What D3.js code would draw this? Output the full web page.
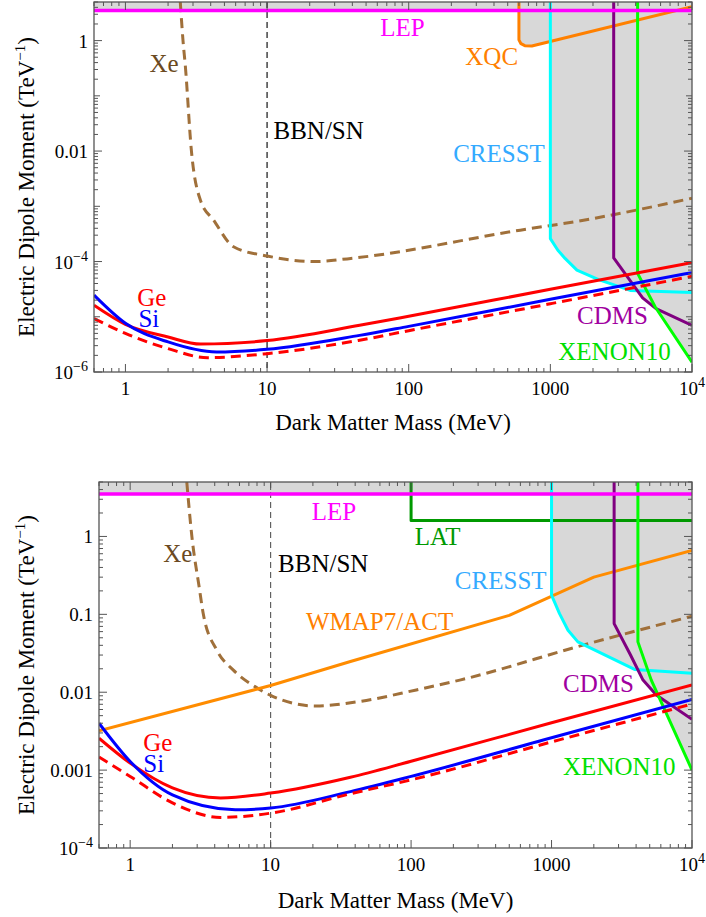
<!DOCTYPE html>
<html>
<head>
<meta charset="utf-8">
<title>Electric dipole moment limits</title>
<script src="https://cdn.jsdelivr.net/npm/d3@7"></script>
<style>
  body { margin: 0; background: #fff; }
</style>
</head>
<body>
<svg id="chart" width="706" height="917" font-family="'Liberation Serif', 'Times New Roman', Times, serif"></svg>
<script>
// values, as [mass in MeV, EDM in TeV^-1]
var xTicks = [1, 10, 100, 1000, 10000];
var xTickLabels = ["1", "10", "100", "1000", "10^4"];
var topYTicks = [1e-6, 1e-4, 1e-2, 1];
var topYLabels = ["10^\u22126", "10^\u22124", "0.01", "1"];
var botYTicks = [1e-4, 1e-3, 1e-2, 0.1, 1];
var botYLabels = ["10^\u22124", "0.001", "0.01", "0.1", "1"];

// upper panel
var lepTop = [[0.6, 3.5], [1e4, 3.5]];
var xqcTop = [[600, 5], [600, 1.03], [620, 0.88], [660, 0.81], [740, 0.8], [1e4, 4.1]];
var cresstTop = [[1000, 5], [1000, 2.6e-4], [1130, 1.6e-4], [1270, 1.14e-4], [1540, 7e-5], [2190, 4.7e-5], [3660, 3.0e-5], [1e4, 2.75e-5]];
var cdmsTop = [[2800, 5], [2800, 1.16e-4], [4480, 2.2e-5], [5570, 1.4e-5], [1e4, 7e-6]];
var xenonTop = [[4130, 5], [4130, 6.1e-5], [5500, 1.5e-5], [1e4, 1.5e-6]];
var xeTop = [[2.44, 5], [2.55, 1], [2.65, 0.34], [2.92, 0.0104], [3.38, 1.3e-3], [4.2, 5.6e-4], [5.8, 1.85e-4], [10, 1.26e-4], [22, 1e-4], [39, 1.14e-4], [613, 3.7e-4], [1715, 5.6e-4], [1e4, 1.4e-3]];
var geTop = [[0.6, 1.62e-5], [1, 7.3e-6], [2, 4.3e-6], [3.4, 3.2e-6], [10, 3.7e-6], [45, 7e-6], [100, 1.02e-5], [1000, 3.15e-5], [1e4, 9.6e-5]];
var siTop = [[0.6, 2.46e-5], [1, 7.6e-6], [2, 3.5e-6], [4.4, 2.3e-6], [10, 2.57e-6], [45, 4.6e-6], [100, 6.7e-6], [1000, 2.07e-5], [1e4, 6.3e-5]];
var geDashTop = [[0.6, 9.3e-6], [1, 5e-6], [2, 2.65e-6], [3.8, 1.82e-6], [10, 2.15e-6], [45, 3.76e-6], [100, 5.6e-6], [1000, 1.72e-5], [1e4, 5.4e-5]];

// lower panel
var lepBot = [[0.6, 3.5], [1e4, 3.5]];
var latBot = [[100, 5], [100, 1.6], [1e4, 1.6]];
var cresstBot = [[1000, 5], [1000, 0.176], [1140, 0.102], [1310, 0.0625], [1540, 0.0443], [3900, 0.0196], [1e4, 0.0175]];
var cdmsBot = [[2790, 5], [2790, 0.076], [3650, 0.03], [4480, 0.0143], [5570, 9.2e-3], [1e4, 4.5e-3]];
var xenonBot = [[4120, 5], [4120, 0.0443], [5130, 0.0143], [1e4, 1e-3]];
var xeBot = [[2.53, 5], [2.75, 1], [3.1, 0.224], [3.32, 0.1], [4.14, 0.0347], [5.43, 0.0192], [7.74, 0.0118], [10, 9.1e-3], [21, 6.66e-3], [43, 7.6e-3], [109, 0.0107], [222, 0.0143], [1675, 0.0402], [1e4, 0.0946]];
var wmapBot = [[0.6, 3.2e-3], [10, 0.0122], [37, 0.0248], [500, 0.097], [2000, 0.3], [1e4, 0.66]];
var geBot = [[0.6, 2.57e-3], [1, 1.23e-3], [2, 5.9e-4], [4.4, 4.38e-4], [10, 5.07e-4], [37, 8.1e-4], [100, 1.3e-3], [1000, 4.05e-3], [1e4, 0.0124]];
var siBot = [[0.6, 4.0e-3], [1, 1.29e-3], [2, 4.8e-4], [5.6, 3.1e-4], [10, 3.26e-4], [37, 5.3e-4], [100, 8.3e-4], [1000, 2.6e-3], [1e4, 8.1e-3]];
var geDashBot = [[0.6, 1.47e-3], [1, 8.3e-4], [2, 3.8e-4], [4.4, 2.47e-4], [10, 2.8e-4], [37, 4.97e-4], [100, 7.5e-4], [1000, 2.3e-3], [1e4, 7.06e-3]];

var bbnMass = 10;
var xMin = 0.6, xMax = 1e4, yMax = 5;
var serif = "'Liberation Serif', 'Times New Roman', Times, serif";

var svg = d3.select("#chart");

var panels = [
  {
    box: {left: 94, right: 692, top: 2, bottom: 372},
    yMin: 1e-6, yTicks: topYTicks, yLabels: topYLabels,
    xTitleY: 430, bbnColor: "#000",
    shaded: [xqcTop, cresstTop, cdmsTop, xenonTop],
    lep: lepTop,
    lines: [
      {d: xeTop, color: "#a0703a", dash: "10,6", smooth: true},
      {d: xqcTop, color: "#ff8000"},
      {d: cresstTop, color: "#00ffff"},
      {d: cdmsTop, color: "#800080"},
      {d: xenonTop, color: "#00ff00"},
      {d: lepTop, color: "#ff00ff", width: 3.5},
      {d: geTop, color: "#ff0000", smooth: true},
      {d: siTop, color: "#0000ff", smooth: true},
      {d: geDashTop, color: "#ff0000", dash: "10,6", smooth: true}
    ],
    labels: [
      {t: "Xe", m: 1.48, v: 0.274, c: "#6b4a22"},
      {t: "BBN/SN", m: 11.1, v: 0.0165, c: "#000"},
      {t: "LEP", m: 63, v: 1.22, c: "#ff00ff"},
      {t: "XQC", m: 251, v: 0.363, c: "#ff8000"},
      {t: "CRESST", m: 206, v: 6.4e-3, c: "#33aaff"},
      {t: "Ge", m: 1.21, v: 1.55e-5, c: "#ff0000"},
      {t: "Si", m: 1.235, v: 6.6e-6, c: "#0000ff"},
      {t: "CDMS", m: 1541, v: 7.3e-6, c: "#a000a0"},
      {t: "XENON10", m: 1137, v: 1.68e-6, c: "#00e000"}
    ]
  },
  {
    box: {left: 99, right: 692, top: 482, bottom: 848},
    yMin: 1e-4, yTicks: botYTicks, yLabels: botYLabels,
    xTitleY: 908, bbnColor: "#555",
    shaded: [cresstBot, cdmsBot, xenonBot],
    lep: lepBot,
    lines: [
      {d: xeBot, color: "#a0703a", dash: "10,6", smooth: true},
      {d: wmapBot, color: "#ff8c00"},
      {d: latBot, color: "#009900"},
      {d: cresstBot, color: "#00ffff"},
      {d: cdmsBot, color: "#800080"},
      {d: xenonBot, color: "#00ff00"},
      {d: lepBot, color: "#ff00ff", width: 3.5},
      {d: geBot, color: "#ff0000", smooth: true},
      {d: siBot, color: "#0000ff", smooth: true},
      {d: geDashBot, color: "#ff0000", dash: "10,6", smooth: true}
    ],
    labels: [
      {t: "Xe", m: 1.72, v: 0.469, c: "#6b4a22"},
      {t: "BBN/SN", m: 11.3, v: 0.349, c: "#000"},
      {t: "LEP", m: 19.6, v: 1.64, c: "#ff00ff"},
      {t: "LAT", m: 106, v: 0.767, c: "#009900"},
      {t: "CRESST", m: 205, v: 0.214, c: "#33aaff"},
      {t: "WMAP7/ACT", m: 199.5, v: 0.0626, c: "#ff8000", end: true},
      {t: "CDMS", m: 1208, v: 0.0101, c: "#a000a0"},
      {t: "XENON10", m: 1208, v: 8.7e-4, c: "#00e000"},
      {t: "Ge", m: 1.24, v: 1.78e-3, c: "#ff0000"},
      {t: "Si", m: 1.24, v: 9.4e-4, c: "#0000ff"}
    ]
  }
];

function tickText(sel, s) {
  var parts = s.split("^");
  sel.text(parts[0]);
  if (parts.length > 1) {
    sel.append("tspan").attr("dy", -8).attr("font-size", 14).text(parts[1]);
  }
}

function logTicks(lo, hi) {
  var out = [];
  for (var k = Math.floor(Math.log10(lo)); k <= Math.ceil(Math.log10(hi)); k++) {
    for (var j = 1; j < 10; j++) {
      var v = j * Math.pow(10, k);
      if (v >= lo * 0.999 && v <= hi * 1.001) out.push({v: v, j: j});
    }
  }
  return out;
}

panels.forEach(function(p, i) {
  var b = p.box;
  var x = d3.scaleLog().domain([xMin, xMax]).range([b.left, b.right]);
  var y = d3.scaleLog().domain([p.yMin, yMax]).range([b.bottom, b.top]);

  svg.append("clipPath").attr("id", "clip" + i)
    .append("rect")
      .attr("x", b.left).attr("y", b.top)
      .attr("width", b.right - b.left).attr("height", b.bottom - b.top);

  var g = svg.append("g").attr("clip-path", "url(#clip" + i + ")");

  // excluded regions: everything above each limit curve
  var poly = function(d) {
    var pts = d.map(function(q) { return [x(q[0]), y(q[1])]; });
    pts.push([x(xMax), y(yMax)]);
    pts.push([x(d[0][0]), y(yMax)]);
    return "M" + pts.join("L") + "Z";
  };
  g.selectAll(".shade").data(p.shaded.concat([p.lep])).enter()
    .append("path")
      .attr("fill", "#d8d8d8")
      .attr("stroke", "none")
      .attr("d", poly);

  g.append("line")
      .attr("x1", x(bbnMass)).attr("x2", x(bbnMass))
      .attr("y1", b.top).attr("y2", b.bottom)
      .attr("stroke", p.bbnColor)
      .attr("stroke-width", 1.1)
      .attr("stroke-dasharray", "6,4");

  p.lines.forEach(function(l) {
    var line = d3.line()
      .x(function(q) { return x(q[0]); })
      .y(function(q) { return y(q[1]); })
      .curve(l.smooth ? d3.curveMonotoneX : d3.curveLinear);
    g.append("path")
      .datum(l.d)
      .attr("fill", "none")
      .attr("stroke", l.color)
      .attr("stroke-width", l.width || 3)
      .attr("stroke-dasharray", l.dash || null)
      .attr("stroke-linejoin", "round")
      .attr("d", line);
  });

  // frame
  svg.append("rect")
      .attr("x", b.left).attr("y", b.top)
      .attr("width", b.right - b.left).attr("height", b.bottom - b.top)
      .attr("fill", "none")
      .attr("stroke", "#555")
      .attr("stroke-width", 1.3);

  var ax = svg.append("g").attr("stroke", "#555").attr("stroke-width", 1);

  logTicks(xMin, xMax).forEach(function(t) {
    var len = t.j === 1 ? 8 : 4;
    var px = x(t.v);
    ax.append("line").attr("x1", px).attr("x2", px).attr("y1", b.bottom).attr("y2", b.bottom - len);
    ax.append("line").attr("x1", px).attr("x2", px).attr("y1", b.top).attr("y2", b.top + len);
  });

  logTicks(p.yMin, yMax).forEach(function(t) {
    var major = p.yTicks.some(function(v) { return Math.abs(v - t.v) < t.v * 1e-6; });
    var len = major ? 8 : (t.j === 1 ? 6 : 4);
    var py = y(t.v);
    ax.append("line").attr("y1", py).attr("y2", py).attr("x1", b.left).attr("x2", b.left + len);
    ax.append("line").attr("y1", py).attr("y2", py).attr("x1", b.right).attr("x2", b.right - len);
  });

  xTicks.forEach(function(v, k) {
    svg.append("text")
        .attr("x", x(v)).attr("y", b.bottom + 23)
        .attr("text-anchor", "middle")
        .attr("font-family", serif)
        .attr("font-size", 19)
        .call(tickText, xTickLabels[k]);
  });

  p.yTicks.forEach(function(v, k) {
    svg.append("text")
        .attr("x", b.left - 6).attr("y", y(v) + 7)
        .attr("text-anchor", "end")
        .attr("font-family", serif)
        .attr("font-size", 19)
        .call(tickText, p.yLabels[k]);
  });

  svg.append("text")
      .attr("x", (b.left + b.right) / 2).attr("y", p.xTitleY)
      .attr("text-anchor", "middle")
      .attr("font-family", serif)
      .attr("font-size", 23)
      .text("Dark Matter Mass (MeV)");

  var yt = svg.append("text")
      .attr("transform", "translate(34," + ((b.top + b.bottom) / 2) + ") rotate(-90)")
      .attr("text-anchor", "middle")
      .attr("font-family", serif)
      .attr("font-size", 23);
  yt.append("tspan").text("Electric Dipole Moment (TeV");
  yt.append("tspan").attr("dy", -9).attr("font-size", 15).text("\u22121");
  yt.append("tspan").attr("dy", 9).text(")");

  p.labels.forEach(function(l) {
    svg.append("text")
        .attr("x", x(l.m)).attr("y", y(l.v))
        .attr("text-anchor", l.end ? "end" : "start")
        .attr("font-family", serif)
        .attr("font-size", 25)
        .attr("fill", l.c)
        .text(l.t);
  });
});
</script>
</body>
</html>
